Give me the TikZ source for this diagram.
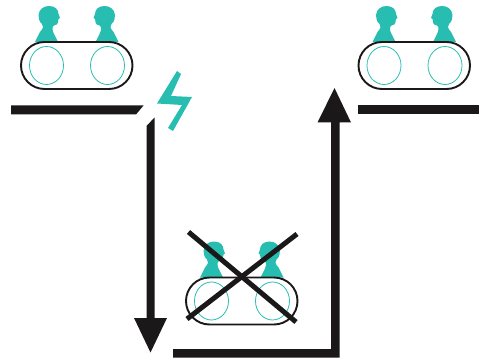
\documentclass[tikz,border=0pt]{standalone}
\definecolor{teal1}{HTML}{27BDB0}
\definecolor{ink}{HTML}{1A1819}
\newcommand{\personshape}{(38.5,15) .. controls (39,9) and (44,6) .. (49,6)
      .. controls (55,6) and (58.5,9.5) .. (58.5,14) -- (60,18) -- (58.5,19)
      .. controls (58.5,22) and (58,25) .. (54,25.5)
      .. controls (51.5,27) and (52.5,31) .. (54,34)
      -- (58,42) -- (35,42) -- (40,32)
      .. controls (43.5,28) and (44,26) .. (42,24)
      .. controls (39,21.5) and (38.5,18) .. (38.5,15) -- cycle}
\tikzset{
  inkfill/.style={fill=ink,draw=none},
  tealfill/.style={fill=teal1,draw=none},
  tram/.pic={
    \fill[teal1] \personshape;
    \fill[teal1,shift={(153.5,0)},xscale=-1] \personshape;
    \draw[teal1,line width=0.8] (46.5,65.5) ellipse [x radius=17, y radius=19];
    \draw[teal1,line width=0.8] (107.5,65.5) ellipse [x radius=17, y radius=19];
    \draw[ink,line width=1.9,rounded corners=23.5] (21,42) rectangle (132.5,89);
  }
}
\begin{document}
\begin{tikzpicture}[x=1pt,y=-1pt]
\useasboundingbox (0,0) rectangle (479,358);
\pic at (0,0) {tram};
\pic at (337.5,0) {tram};
\pic at (165,235.5) {tram};
% platforms
\fill[inkfill] (11,105.5) -- (143.5,105.5) -- (136,114.5) -- (11,114.5) -- cycle;
\fill[inkfill] (357.5,105.5) -- (479,105.5) -- (479,114.5) -- (357.5,114.5) -- cycle;
% down arrow
\fill[inkfill] (146.5,126) -- (154.5,117.5) -- (154.5,318) -- (167,318) -- (150.5,352.5) -- (134,318) -- (146.5,318) -- cycle;
% up arrow
\fill[inkfill] (173,349) -- (331,349) -- (331,122.5) -- (317.5,122.5) -- (334.5,88) -- (351,122.5) -- (339.5,122.5) -- (339.5,357.5) -- (173,357.5) -- cycle;
% lightning
\fill[tealfill] (177,71) -- (181,74) -- (171,96) -- (192,97) -- (173,131) -- (168,128) -- (182,105) -- (157,103.5) -- cycle;
% cross
\draw[ink,line width=5] (188.5,232) -- (296,322);
\draw[ink,line width=5] (297,234) -- (187,319);
\end{tikzpicture}
\end{document}
